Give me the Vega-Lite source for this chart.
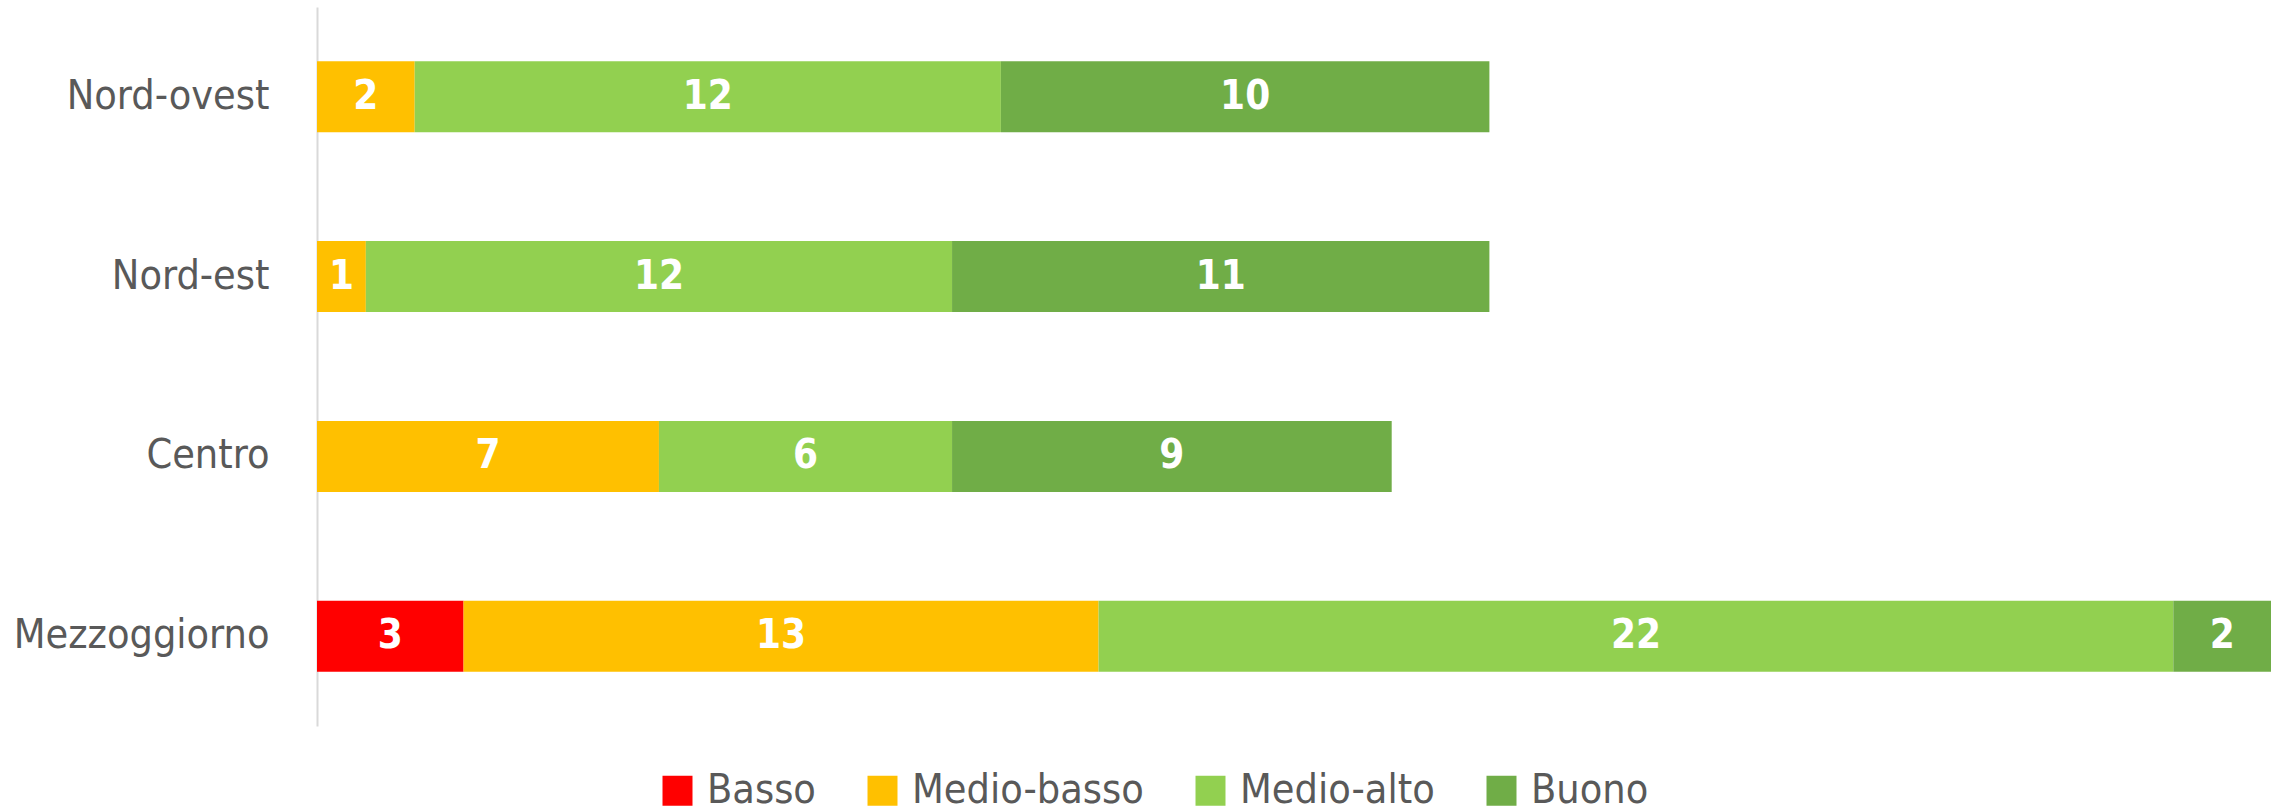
{
  "$schema": "https://vega.github.io/schema/vega-lite/v6.json",
  "autosize": "none",
  "width": 1954,
  "height": 719,
  "padding": {"left": 317, "top": 7, "right": 9, "bottom": 86},
  "background": "white",
  "config": {
    "view": {"stroke": null},
    "font": "DejaVu Sans Condensed"
  },
  "data": {
    "values": [
      {"area": "Nord-ovest", "livello": "Medio-basso", "ord": 2, "value": 2},
      {"area": "Nord-ovest", "livello": "Medio-alto", "ord": 3, "value": 12},
      {"area": "Nord-ovest", "livello": "Buono", "ord": 4, "value": 10},
      {"area": "Nord-est", "livello": "Medio-basso", "ord": 2, "value": 1},
      {"area": "Nord-est", "livello": "Medio-alto", "ord": 3, "value": 12},
      {"area": "Nord-est", "livello": "Buono", "ord": 4, "value": 11},
      {"area": "Centro", "livello": "Medio-basso", "ord": 2, "value": 7},
      {"area": "Centro", "livello": "Medio-alto", "ord": 3, "value": 6},
      {"area": "Centro", "livello": "Buono", "ord": 4, "value": 9},
      {"area": "Mezzoggiorno", "livello": "Basso", "ord": 1, "value": 3},
      {"area": "Mezzoggiorno", "livello": "Medio-basso", "ord": 2, "value": 13},
      {"area": "Mezzoggiorno", "livello": "Medio-alto", "ord": 3, "value": 22},
      {"area": "Mezzoggiorno", "livello": "Buono", "ord": 4, "value": 2}
    ]
  },
  "encoding": {
    "y": {
      "field": "area",
      "type": "nominal",
      "sort": ["Nord-ovest", "Nord-est", "Centro", "Mezzoggiorno"],
      "scale": {"paddingInner": 0.605, "paddingOuter": 0.302},
      "axis": {
        "title": null,
        "ticks": false,
        "domainColor": "#d9d9d9",
        "domainWidth": 2,
        "labelFont": "DejaVu Sans Condensed",
        "labelFontSize": 41,
        "labelColor": "#595959",
        "labelPadding": 48,
        "labelLimit": 400
      }
    },
    "x": {
      "field": "value",
      "type": "quantitative",
      "stack": "zero",
      "scale": {"domain": [0, 40], "nice": false},
      "axis": null
    },
    "order": {"field": "ord", "type": "quantitative"}
  },
  "layer": [
    {
      "mark": {"type": "bar"},
      "encoding": {
        "color": {
          "field": "livello",
          "type": "nominal",
          "scale": {
            "domain": ["Basso", "Medio-basso", "Medio-alto", "Buono"],
            "range": ["#FF0000", "#FFC000", "#92D050", "#70AD47"]
          },
          "legend": {
            "title": null,
            "orient": "none",
            "direction": "horizontal",
            "legendX": 340,
            "legendY": 763,
            "padding": 0,
            "symbolType": "square",
            "symbolSize": 900,
            "symbolStrokeWidth": 0,
            "symbolOpacity": 1,
            "labelFont": "DejaVu Sans Condensed",
            "labelFontSize": 41,
            "labelColor": "#595959",
            "labelOffset": 9,
            "columnPadding": 46,
            "labelLimit": 400
          }
        }
      }
    },
    {
      "mark": {
        "type": "text",
        "color": "white",
        "fontWeight": "bold",
        "fontSize": 40,
        "font": "DejaVu Sans Condensed",
        "baseline": "middle",
        "align": "center"
      },
      "encoding": {
        "x": {
          "field": "value",
          "type": "quantitative",
          "stack": "zero",
          "bandPosition": 0.5
        },
        "text": {"field": "value", "type": "quantitative"}
      }
    }
  ]
}
